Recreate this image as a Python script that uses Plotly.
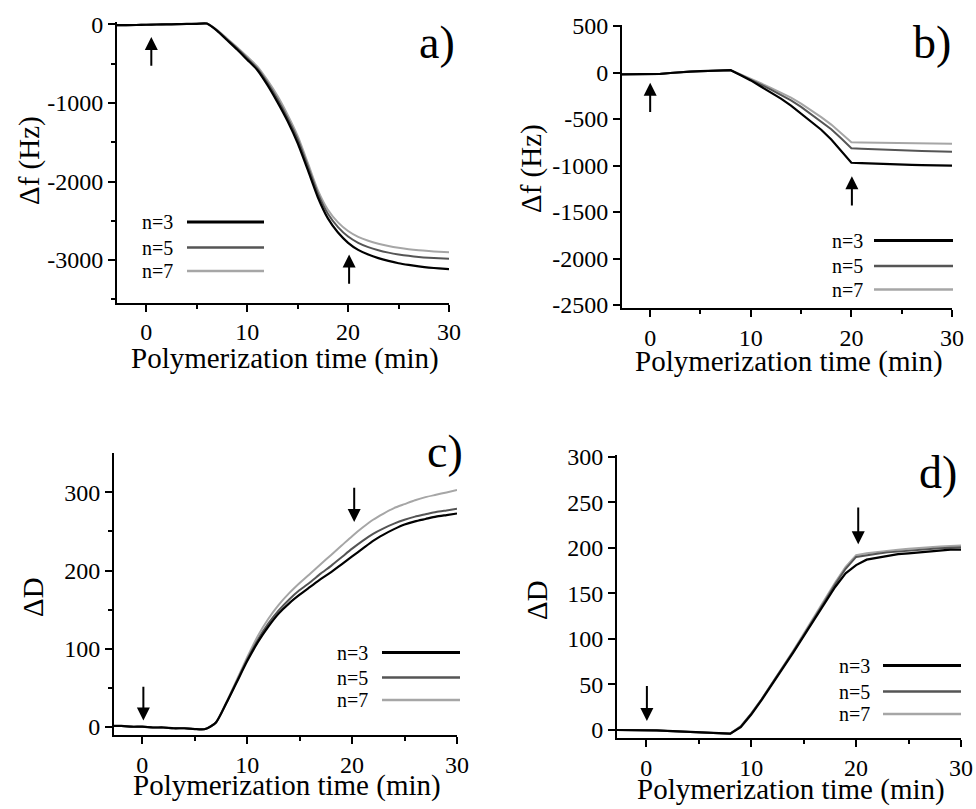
import plotly.graph_objects as go

W, H = 976, 809
FONT = "Liberation Serif, Times New Roman, Times, DejaVu Serif, serif"

# ---------------- data ----------------
SERIES = ["n=3", "n=5", "n=7"]
COLORS = {"n=3": "#000000", "n=5": "#555555", "n=7": "#a6a6a6"}
WIDTHS = {"n=3": 2.2, "n=5": 2.0, "n=7": 2.0}

T = list(range(-3, 31))

# panel a: delta f (Hz)
A_BASE = [-10, -10, -8, -5, -2, 0, 2, 5, 7, 10]
a_n3 = A_BASE + [-80, -200, -320, -450, -580, -770, -990, -1230, -1510, -1850, -2200, -2470,
                 -2650, -2780, -2870, -2930, -2975, -3010, -3040, -3062, -3080, -3095, -3106, -3115]
a_n5 = A_BASE + [-75, -190, -305, -430, -560, -740, -950, -1190, -1460, -1800, -2150, -2410,
                 -2580, -2700, -2780, -2835, -2875, -2905, -2928, -2946, -2960, -2970, -2977, -2982]
a_n7 = A_BASE + [-70, -180, -290, -410, -535, -710, -910, -1150, -1420, -1760, -2110, -2360,
                 -2520, -2630, -2705, -2755, -2792, -2820, -2843, -2862, -2876, -2886, -2894, -2900]

# panel b: delta f (Hz)
B_BASE = [-20, -20, -20, -20, -15, -5, 5, 10, 15, 18, 22, 25]
b_n3 = B_BASE + [-30, -85, -150, -215, -280, -355, -440, -525, -615, -720, -840, -970,
                 -975, -980, -984, -988, -991, -994, -996, -998, -1000, -1002]
b_n5 = B_BASE + [-25, -75, -130, -185, -240, -300, -370, -450, -525, -610, -710, -815,
                 -820, -825, -830, -834, -838, -841, -844, -847, -849, -851]
b_n7 = B_BASE + [-20, -65, -115, -165, -215, -270, -335, -405, -480, -560, -650, -750,
                 -752, -754, -756, -758, -759, -760, -761, -762, -764, -765]

# panel c: delta D
C_BASE = [1, 1, 0, 0, -1, -1, -2, -2, -3, -3]
c_n3 = C_BASE + [5, 30, 57, 84, 108, 128, 145, 158, 169, 179, 189, 198,
                 208, 218, 228, 238, 246, 253, 259, 263, 266, 269, 271, 273]
c_n5 = C_BASE + [5, 30, 58, 86, 111, 132, 149, 163, 175, 185, 196, 206,
                 217, 228, 238, 247, 254, 260, 265, 269, 272, 275, 277, 279]
c_n7 = C_BASE + [5, 31, 60, 89, 116, 138, 156, 171, 184, 196, 208, 220,
                 232, 244, 255, 265, 273, 280, 285, 290, 294, 297, 300, 303]

# panel d: delta D
D_BASE = [0, 0, 0, 0, -0.5, -1, -1.5, -2, -2.5, -3, -3.5, -4]
d_n3 = D_BASE + [3, 17, 33, 50, 67, 85, 103, 121, 139, 157, 172, 181,
                 187, 189, 191, 193, 194, 195, 196, 197, 198, 198]
d_n5 = D_BASE + [4, 18, 34, 51, 68, 86, 104, 122, 141, 160, 177, 190,
                 192, 193.5, 195, 196, 197, 198, 199, 199.5, 200, 200.5]
d_n7 = D_BASE + [4, 18, 34, 51, 69, 87, 106, 124, 143, 162, 179, 192,
                 194, 195.5, 197, 198, 199, 200, 201, 201.5, 202, 202.5]

PANEL_DATA = {
    "a": {"n=3": a_n3, "n=5": a_n5, "n=7": a_n7},
    "b": {"n=3": b_n3, "n=5": b_n5, "n=7": b_n7},
    "c": {"n=3": c_n3, "n=5": c_n5, "n=7": c_n7},
    "d": {"n=3": d_n3, "n=5": d_n5, "n=7": d_n7},
}

X_TICKS = [0, 10, 20, 30]
X_MINOR = [5, 15, 25]
A_YTICKS = [0, -1000, -2000, -3000]
A_YMINOR = [-500, -1500, -2500, -3500]
B_YTICKS = [500, 0, -500, -1000, -1500, -2000, -2500]
C_YTICKS = [0, 100, 200, 300]
C_YMINOR = [50, 150, 250]
D_YTICKS = [0, 50, 100, 150, 200, 250, 300]

# arrows: (head x, head y, tail x, tail y)
ARROWS = {
    "a": [(0.5, -160, 0.5, -545), (20.1, -2930, 20.1, -3320)],
    "b": [(0.0, -110, 0.0, -440), (20.05, -1115, 20.05, -1445)],
    "c": [(0.1, 8, 0.1, 53), (20.2, 262, 20.2, 308)],
    "d": [(0.05, 10, 0.05, 50), (20.2, 204, 20.2, 246)],
}

# ---------------- layout geometry (pixels) ----------------
GEOM = {
    "a": dict(px=(117, 449), py=(22.0, 302.5), xr=[-2.9, 30], yr=[-3540, 30]),
    "b": dict(px=(622, 952), py=(25.1, 307.8), xr=[-2.8, 30], yr=[-2530, 510]),
    "c": dict(px=(114, 457), py=(452.6, 735.3), xr=[-2.7, 30], yr=[-11, 351]),
    "d": dict(px=(617, 961), py=(454.9, 738.2), xr=[-2.8, 30], yr=[-9, 302]),
}
YTICKS = {"a": (A_YTICKS, A_YMINOR), "b": (B_YTICKS, []), "c": (C_YTICKS, C_YMINOR), "d": (D_YTICKS, [])}
LINE_SHAPE = {"a": "spline", "b": "linear", "c": "spline", "d": "linear"}

YTITLE = {"a": ("Δf (Hz)", 30, 161), "b": ("Δf (Hz)", 531, 169),
          "c": ("ΔD", 33, 597), "d": ("ΔD", 537, 600)}
XTITLE = {"a": (285, 359), "b": (789, 361), "c": (287, 785), "d": (791, 789)}
LABEL = {"a": ("a)", 437, 42), "b": ("b)", 932, 43), "c": ("c)", 445, 452), "d": ("d)", 938, 472)}
LEGEND = {"a": (175, 187, 264, [222, 247.5, 271]),
          "b": (865, 874, 953, [240.5, 266, 289.5]),
          "c": (370, 382, 460, [652.5, 677.5, 700]),
          "d": (872, 883, 961, [665.5, 691.5, 714])}


def fx(p):
    return p / W


def fy(p):
    return 1 - p / H


def fmt(v):
    return ("-" + str(abs(v))) if v < 0 else str(v)


fig = go.Figure()
annotations = []
shapes = []

for i, key in enumerate(["a", "b", "c", "d"]):
    idx = "" if i == 0 else str(i + 1)
    g = GEOM[key]
    xa, ya = "x" + idx, "y" + idx
    for s in ["n=7", "n=5", "n=3"]:
        fig.add_trace(go.Scatter(
            x=T, y=PANEL_DATA[key][s], mode="lines", name=s, showlegend=False,
            line=dict(color=COLORS[s], width=WIDTHS[s], shape=LINE_SHAPE[key], smoothing=0.6),
            xaxis=xa, yaxis=ya))
    common = dict(showline=True, linecolor="black", linewidth=2, ticks="outside",
                  ticklen=7, tickwidth=2, tickcolor="black", showgrid=False, zeroline=False,
                  automargin=False,
                  tickfont=dict(family=FONT, size=24, color="black"))
    yt, ym = YTICKS[key]
    fig.layout["xaxis" + idx] = dict(
        common, domain=[fx(g["px"][0]), fx(g["px"][1])], range=g["xr"], anchor=ya,
        tickmode="array", tickvals=X_TICKS, ticktext=[fmt(v) for v in X_TICKS],
        minor=dict(ticks="outside", ticklen=4, tickwidth=1.5, tickcolor="black", tickvals=X_MINOR))
    fig.layout["yaxis" + idx] = dict(
        common, domain=[fy(g["py"][1]), fy(g["py"][0])], range=g["yr"], anchor=xa,
        tickmode="array", tickvals=yt, ticktext=[fmt(v) for v in yt],
        minor=dict(ticks="outside" if ym else "", ticklen=4, tickwidth=1.5, tickcolor="black",
                   tickvals=ym))

    for hx, hy, tx, ty in ARROWS[key]:
        annotations.append(dict(x=hx, y=hy, ax=tx, ay=ty, xref=xa, yref=ya, axref=xa, ayref=ya,
                                showarrow=True, arrowhead=2, arrowsize=1.3, arrowwidth=2,
                                arrowcolor="black", text=""))
    t, cx, cy = YTITLE[key]
    annotations.append(dict(x=fx(cx), y=fy(cy), xref="paper", yref="paper", text=t,
                            textangle=-90, showarrow=False, xanchor="center", yanchor="middle",
                            font=dict(family=FONT, size=29, color="black")))
    cx, cy = XTITLE[key]
    annotations.append(dict(x=fx(cx), y=fy(cy), xref="paper", yref="paper",
                            text="Polymerization time (min)", showarrow=False,
                            xanchor="center", yanchor="middle",
                            font=dict(family=FONT, size=29, color="black")))
    t, cx, cy = LABEL[key]
    annotations.append(dict(x=fx(cx), y=fy(cy), xref="paper", yref="paper", text=t,
                            showarrow=False, xanchor="center", yanchor="middle",
                            font=dict(family=FONT, size=46, color="black")))
    tx_r, lx0, lx1, rows = LEGEND[key]
    for s, ry in zip(SERIES, rows):
        annotations.append(dict(x=fx(tx_r), y=fy(ry), xref="paper", yref="paper", text=s,
                                showarrow=False, xanchor="right", yanchor="middle",
                                font=dict(family=FONT, size=20, color="black")))
        shapes.append(dict(type="line", xref="paper", yref="paper",
                           x0=fx(lx0), x1=fx(lx1), y0=fy(ry), y1=fy(ry),
                           line=dict(color=COLORS[s], width=WIDTHS[s] + 0.6)))

fig.update_layout(width=W, height=H, margin=dict(l=0, r=0, t=0, b=0, pad=0),
                  font=dict(family=FONT, color="black"),
                  paper_bgcolor="white", plot_bgcolor="white",
                  annotations=annotations, shapes=shapes, showlegend=False)

fig.write_html("out.html")
